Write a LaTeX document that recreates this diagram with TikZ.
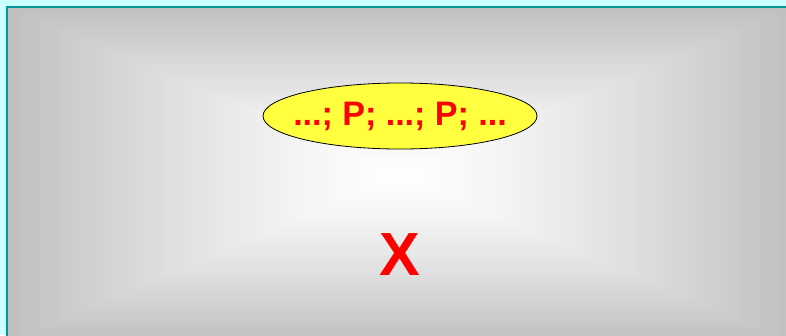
\documentclass[tikz,border=0pt]{standalone}
\usepackage{fontspec}
\setmainfont{Liberation Sans}
\usepackage{xcolor}
\usepackage{tikz}
\usetikzlibrary{shapes.geometric, positioning}

\definecolor{fundo}{RGB}{204,255,255}
\definecolor{borda}{RGB}{0,153,153}
\definecolor{cinza}{RGB}{192,192,192}
\definecolor{amarelo}{RGB}{255,255,64}
\definecolor{vermelho}{RGB}{255,0,0}

\begin{document}
\begin{tikzpicture}[x=1pt, y=-1pt,
        every node/.style={align=center, font=\bfseries},
        elipse/.style={draw, ellipse, fill=amarelo, line width=0.8pt, minimum width=274pt, minimum height=66pt, inner sep=0pt},
        texto/.style={text=vermelho, font=\bfseries\fontsize{34}{36}\selectfont},
        grande/.style={text=vermelho, font=\bfseries\fontsize{61}{64}\selectfont}
    ]
        \useasboundingbox (0,0) rectangle (786,335);
        \clip (0,0) rectangle (786,335);
        \fill[fundo] (0,0) rectangle (786,335);
        % degrade do centro para as bordas
        \foreach \i [evaluate=\i as \p using 100*(1-\i/60)^1.3] in {0,...,60}
            \fill[cinza!\p!white] ({400-393*(1-\i/60)},{175-167*(1-\i/60)}) rectangle ({400+393*(1-\i/60)},{175+167*(1-\i/60)});
        \draw[borda, line width=2pt] (7,343) -- (7,7) -- (793,7);
        \node[elipse] (seq) at (400,116) {};
        \node[texto] (seqtxt) at (seq.center) {...; P; ...; P; ...};
        \node[grande] (xis) at (400,255) {X};
    \end{tikzpicture}
\end{document}
